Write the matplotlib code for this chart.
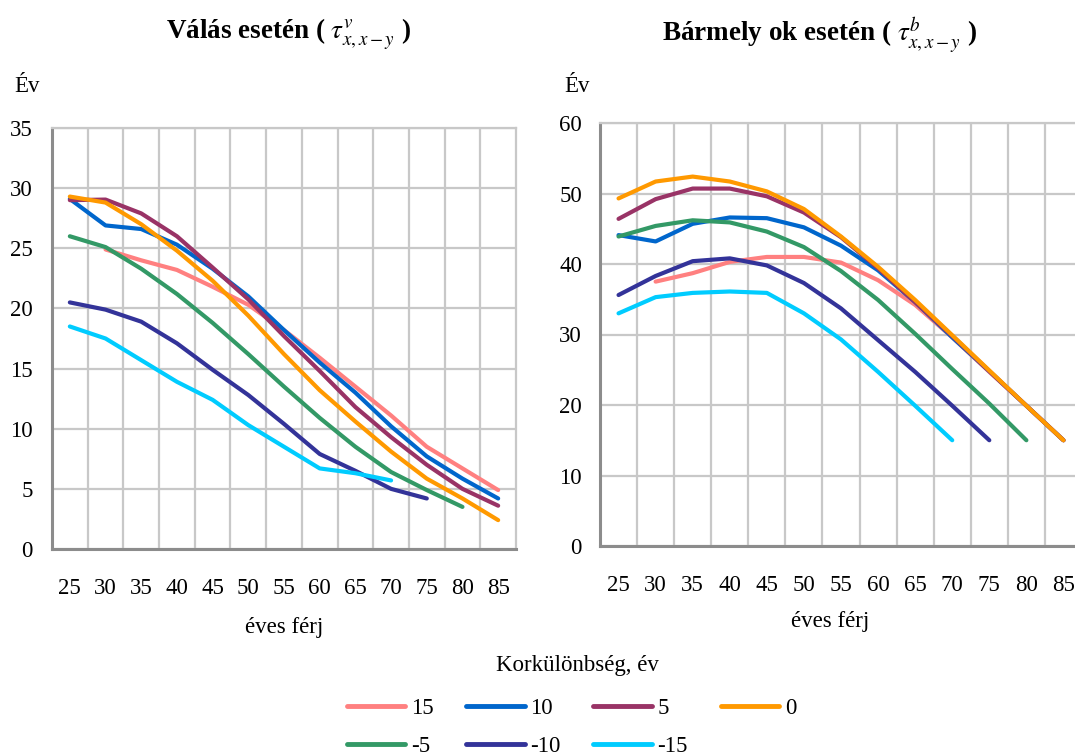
import numpy as np
import matplotlib
matplotlib.use("Agg")
import matplotlib.pyplot as plt
from matplotlib.lines import Line2D

plt.rcParams['font.family'] = ['Liberation Serif', 'DejaVu Serif']
plt.rcParams['mathtext.fontset'] = 'stix'

ages = [25, 30, 35, 40, 45, 50, 55, 60, 65, 70, 75, 80, 85]
series_labels = ['15', '10', '5', '0', '-5', '-10', '-15']
colors = ['#FF8080', '#0066CC', '#993366', '#FF9900', '#339966', '#333399', '#00CCFF']

N = None
# Válás esetén
div_15 = [N, 24.9, 24.0, 23.2, 21.8, 20.3, 18.2, 15.9, 13.5, 11.1, 8.5, 6.7, 4.9]
div_10 = [29.1, 26.9, 26.6, 25.3, 23.3, 21.0, 18.2, 15.5, 13.0, 10.2, 7.7, 5.85, 4.2]
div_5 = [29.0, 29.05, 27.9, 26.0, 23.4, 20.75, 17.7, 14.8, 11.8, 9.3, 7.0, 5.0, 3.6]
div_0 = [29.3, 28.8, 27.0, 24.8, 22.3, 19.4, 16.2, 13.2, 10.6, 8.1, 5.85, 4.2, 2.4]
div_m5 = [26.0, 25.1, 23.3, 21.2, 18.8, 16.2, 13.5, 10.9, 8.5, 6.4, 4.9, 3.5, N]
div_m10 = [20.5, 19.9, 18.9, 17.1, 14.9, 12.8, 10.4, 7.9, 6.5, 5.0, 4.2, N, N]
div_m15 = [18.5, 17.5, 15.7, 13.9, 12.4, 10.3, 8.5, 6.7, 6.3, 5.7, N, N, N]

# Bármely ok esetén
any_15 = [N, 37.5, 38.7, 40.3, 41.0, 41.0, 40.2, 37.7, 34.2, 29.6, 24.7, 19.9, 15.0]
any_10 = [44.1, 43.2, 45.7, 46.6, 46.5, 45.2, 42.6, 39.1, 34.6, 29.6, 24.8, 19.9, 15.0]
any_5 = [46.4, 49.2, 50.7, 50.7, 49.6, 47.3, 43.8, 39.4, 34.6, 29.8, 24.8, 19.9, 15.0]
any_0 = [49.3, 51.7, 52.4, 51.7, 50.3, 47.8, 43.9, 39.6, 34.9, 29.9, 24.9, 19.9, 15.0]
any_m5 = [43.9, 45.4, 46.2, 45.9, 44.6, 42.4, 39.0, 34.9, 30.1, 25.1, 20.2, 15.0, N]
any_m10 = [35.6, 38.3, 40.4, 40.8, 39.8, 37.3, 33.7, 29.2, 24.7, 19.9, 15.0, N, N]
any_m15 = [33.0, 35.3, 35.9, 36.1, 35.9, 33.0, 29.3, 24.7, 19.9, 15.0, N, N, N]

div_series = [div_15, div_10, div_5, div_0, div_m5, div_m10, div_m15]
any_series = [any_15, any_10, any_5, any_0, any_m5, any_m10, any_m15]

W, H = 1075, 756
fig = plt.figure(figsize=(W / 100, H / 100), dpi=100)

def px_axes(x0, y0, x1, y1):
    return fig.add_axes([x0 / W, 1 - y1 / H, (x1 - x0) / W, (y1 - y0) / H])

FS = 16.5
GRID = '#C8C8C8'
SPINE = '#8C8C8C'

def style(ax, ymax, ystep, ypad):
    x = np.arange(len(ages))
    ax.set_xlim(-0.5, len(ages) - 0.5)
    ax.set_ylim(0, ymax)
    ax.set_xticks(x)
    ax.set_xticklabels([str(a) for a in ages])
    ax.set_xticks(np.arange(0.5, len(ages) - 1, 1.0), minor=True)
    ax.set_yticks(np.arange(0, ymax + 0.1, ystep))
    ax.grid(True, axis='x', which='minor', color=GRID, lw=1.6)
    ax.grid(True, axis='y', which='major', color=GRID, lw=1.6)
    ax.grid(False, axis='x', which='major')
    ax.set_axisbelow(True)
    for s in ax.spines.values():
        s.set_color(GRID)
        s.set_linewidth(1.6)
    ax.spines['left'].set_color(SPINE)
    ax.spines['bottom'].set_color(SPINE)
    ax.spines['left'].set_linewidth(2.2)
    ax.spines['bottom'].set_linewidth(2.2)
    ax.tick_params(axis='x', which='both', length=0, pad=21, labelsize=FS, colors='#000000')
    ax.tick_params(axis='y', which='both', length=0, pad=ypad, labelsize=FS, colors='#000000')

ax1 = px_axes(52, 128, 516, 549)
ax2 = px_axes(600, 123, 1082, 546)

for ax, data in ((ax1, div_series), (ax2, any_series)):
    for vals, c in zip(data, colors):
        y = np.array([np.nan if v is None else v for v in vals], dtype=float)
        ax.plot(np.arange(len(ages)), y, color=c, lw=3.0, solid_capstyle='round',
                solid_joinstyle='round')

style(ax1, 35, 5, 14)
style(ax2, 60, 10, 13)

# Titles
fig.text(289 / W, 1 - 35 / H, r'Válás esetén ( $\tau^{v}_{x,x-y}$ )', ha='center', va='center',
         fontsize=19.5, fontweight='bold')
fig.text(820 / W, 1 - 35 / H, r'Bármely ok esetén ( $\tau^{b}_{x,x-y}$ )', ha='center', va='center',
         fontsize=19.5, fontweight='bold')

# Y unit labels
fig.text(14 / W, 1 - 86 / H, 'Év', ha='left', va='center', fontsize=FS)
fig.text(564 / W, 1 - 86 / H, 'Év', ha='left', va='center', fontsize=FS)

# X labels
fig.text(284 / W, 1 - 628 / H, 'éves férj', ha='center', va='center', fontsize=FS)
fig.text(830 / W, 1 - 621 / H, 'éves férj', ha='center', va='center', fontsize=FS)

# Legend title
fig.text(577 / W, 1 - 666 / H, 'Korkülönbség, év', ha='center', va='center', fontsize=FS)

# Legend (row-major order via column-major reordering)
handles = [Line2D([0], [0], color=c, lw=3.5, solid_capstyle='round') for c in colors]
order = [0, 4, 1, 5, 2, 6, 3]
leg = fig.legend([handles[i] for i in order], [series_labels[i] for i in order],
                 loc='upper left', bbox_to_anchor=(347 / W, 1 - 698 / H), ncol=4,
                 frameon=False, fontsize=FS,
                 handlelength=2.55, handletextpad=0.25, columnspacing=1.42,
                 labelspacing=0.72, borderpad=0, borderaxespad=0)

fig.savefig('out.png', dpi=100)
